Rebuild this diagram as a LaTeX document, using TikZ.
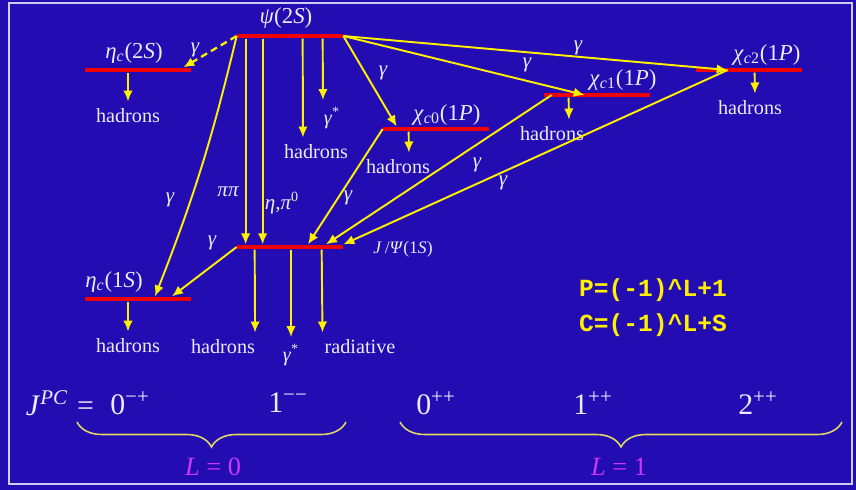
\documentclass[tikz,border=0pt]{standalone}
\usepackage{fontspec}
\setmainfont{Liberation Serif}
\newfontfamily\codefont{Liberation Mono}
\usetikzlibrary{arrows.meta,calc,decorations.pathreplacing}
\definecolor{slidebg}{RGB}{34,12,178}
\definecolor{levelred}{RGB}{240,0,0}
\definecolor{rayyellow}{RGB}{255,240,0}
\definecolor{bracecol}{RGB}{225,215,100}
\definecolor{lmagenta}{RGB}{205,55,245}
\definecolor{framecol}{RGB}{205,205,240}
\definecolor{txtcol}{RGB}{235,235,250}

\begin{document}
\begin{tikzpicture}[
			x=0.02cm, y=-0.02cm,
			every node/.style={text=txtcol, font=\fontsize{11.5}{13}\selectfont, inner sep=1pt},
			lvlbar/.style={fill=levelred, minimum width=2.12cm, minimum height=0.09cm, inner sep=0pt},
			lvlname/.style={font=\fontsize{13}{15}\selectfont},
			glab/.style={font=\fontsize{12}{14}\selectfont\itshape},
			big/.style={font=\fontsize{17}{19}\selectfont},
			code/.style={text=rayyellow, font=\fontsize{14}{16}\selectfont\codefont\bfseries},
			lval/.style={text=lmagenta, font=\fontsize{15}{17}\selectfont},
			ray/.style={draw=rayyellow, line width=1.1pt, -{Latex[length=2.2mm,width=1.9mm]}},
			decay/.style={ray, shorten >=3pt},
			brace/.style={draw=bracecol, line width=0.9pt, decorate, decoration={brace, mirror, amplitude=0.5cm}}
			]
			% Background
			\fill[slidebg] (0,0) rectangle (856,490);
			\draw[framecol, line width=1.2pt] (9,3) rectangle (852,484);
			
			% Levels
			\node[lvlbar] (psi2s) at (290,36) {};
			\node[lvlbar] (etac2s) at (138,70) {};
			\node[lvlbar] (chic0) at (436,129) {};
			\node[lvlbar] (chic1) at (597,95) {};
			\node[lvlbar] (chic2) at (749,70) {};
			\node[lvlbar] (jpsi) at (290,247) {};
			\node[lvlbar] (etac1s) at (138,299) {};
			
			% Level names
			\node[lvlname] (psi2sname) at (286,18) {\textit{ψ}(2\textit{S})};
			\node[lvlname] (etac2sname) at (134,53) {\textit{η}\textsubscript{\textit{c}}(2\textit{S})};
			\node[lvlname] (chic0name) at (447,115) {\textit{χ}\textsubscript{\textit{c}0}(1\textit{P})};
			\node[lvlname] (chic1name) at (623,80) {\textit{χ}\textsubscript{\textit{c}1}(1\textit{P})};
			\node[lvlname] (chic2name) at (767,55) {\textit{χ}\textsubscript{\textit{c}2}(1\textit{P})};
			\node[font=\fontsize{10}{12}\selectfont] (jpsiname) at (403,249) {\textit{J}\,/\textit{Ψ}(1\textit{S})};
			\node[lvlname] (etac1sname) at (114,282) {\textit{η}\textsubscript{\textit{c}}(1\textit{S})};
			
			% Decay products
			\node (had1) at (128,116) {hadrons};
			\node (had2) at (316,152) {hadrons};
			\node (vgam1) at (332,118) {\textit{γ}\textsuperscript{*}};
			\node (had3) at (398,167) {hadrons};
			\node (had4) at (552,134) {hadrons};
			\node (had5) at (750,108) {hadrons};
			\node (had6) at (128,346) {hadrons};
			\node (had7) at (223,347) {hadrons};
			\node (vgam2) at (291,355) {\textit{γ}\textsuperscript{*}};
			\node (rad) at (360,347) {radiative};
			
			\draw[decay] (etac2s.south -| had1) -- (had1);
			\draw[decay] ($(psi2s.south west)+(66,0)$) -- ($(had2.north)+(-13,0)$);
			\draw[decay] ($(psi2s.south west)+(86,0)$) -- ($(vgam1.north)+(-9,0)$);
			\draw[decay] ($(chic0.south west)+(26,0)$) -- ($(had3.north)+(11,0)$);
			\draw[decay] ($(chic1.south west)+(25,0)$) -- ($(had4.north)+(17,0)$);
			\draw[decay] ($(chic2.south west)+(59,0)$) -- ($(had5.north)+(5,0)$);
			\draw[decay] (etac1s.south -| had6) -- (had6);
			\draw[decay] ($(jpsi.south west)+(18,0)$) -- ($(had7.north east)+(-2,0)$);
			\draw[decay] (jpsi.south -| vgam2) -- (vgam2);
			\draw[decay] ($(jpsi.south west)+(85,0)$) -- (rad.north west);
			
			% Transitions
			\draw[ray, line width=1.3pt, dash pattern=on 4pt off 2.5pt] (psi2s.west) -- ($(etac2s.north east)+(-8,0)$);
			\draw[ray] (psi2s.west) to[bend left=4] ($(etac1s.north)+(17,0)$);
			\draw[ray] ($(psi2s.south west)+(9,0)$) -- ($(jpsi.north west)+(9,0)$);
			\draw[ray] ($(psi2s.south west)+(26,0)$) -- ($(jpsi.north west)+(26,0)$);
			\draw[ray] (psi2s.east) -- ($(chic0.north west)+(14,0)$);
			\draw[ray] (psi2s.east) -- ($(chic1.west)+(41,0)$);
			\draw[ray] (psi2s.east) -- ($(chic2.west)+(32,0)$);
			\draw[ray] (chic0.west) -- ($(jpsi.north)+(18,0)$);
			\draw[ray] ($(chic1.west)+(8,0)$) -- ($(jpsi.north)+(36,0)$);
			\draw[ray] ($(chic2.west)+(32,0)$) -- (jpsi.north east);
			\draw[ray] (jpsi.west) -- ($(etac1s.north)+(34,0)$);
			
			% Transition labels
			\node[glab] (g1) at (195,50) {γ};
			\node[glab] (g2) at (170,200) {γ};
			\node[glab] (pipi) at (228,192) {ππ};
			\node[glab] (etapi) at (282,203) {η,π\textsuperscript{\upshape 0}};
			\node[glab] (g3) at (383,73) {γ};
			\node[glab] (g4) at (527,65) {γ};
			\node[glab] (g5) at (578,48) {γ};
			\node[glab] (g6) at (348,198) {γ};
			\node[glab] (g7) at (477,165) {γ};
			\node[glab] (g8) at (503,183) {γ};
			\node[glab] (g9) at (212,243) {γ};
			
			% Quantum numbers
			\node[code] (pform) at (653,290) {P=(-1)\textasciicircum L+1};
			\node[code] (cform) at (653,325) {C=(-1)\textasciicircum L+S};
			\node[big] (jpc) at (60,403) {\textit{J}\textsuperscript{\textit{PC}}\hspace{0.3em}=};
			\node[big] (q0mp) at (130,403) {0\textsuperscript{−+}};
			\node[big] (q1mm) at (288,403) {1\textsuperscript{−−}};
			\node[big] (q0pp) at (436,403) {0\textsuperscript{++}};
			\node[big] (q1pp) at (593,403) {1\textsuperscript{++}};
			\node[big] (q2pp) at (758,403) {2\textsuperscript{++}};
			
			% Braces
			\coordinate (bzl) at (77,422);
			\coordinate (bzr) at (346,422);
			\coordinate (bol) at (400,422);
			\coordinate (bor) at (842,422);
			\draw[brace] (bzl) -- (bzr);
			\draw[brace] (bol) -- (bor);
			\node[lval] (lzero) at (213,467) {\textit{L} = 0};
			\node[lval] (lone) at (619,467) {\textit{L} = 1};
		\end{tikzpicture}
\end{document}
